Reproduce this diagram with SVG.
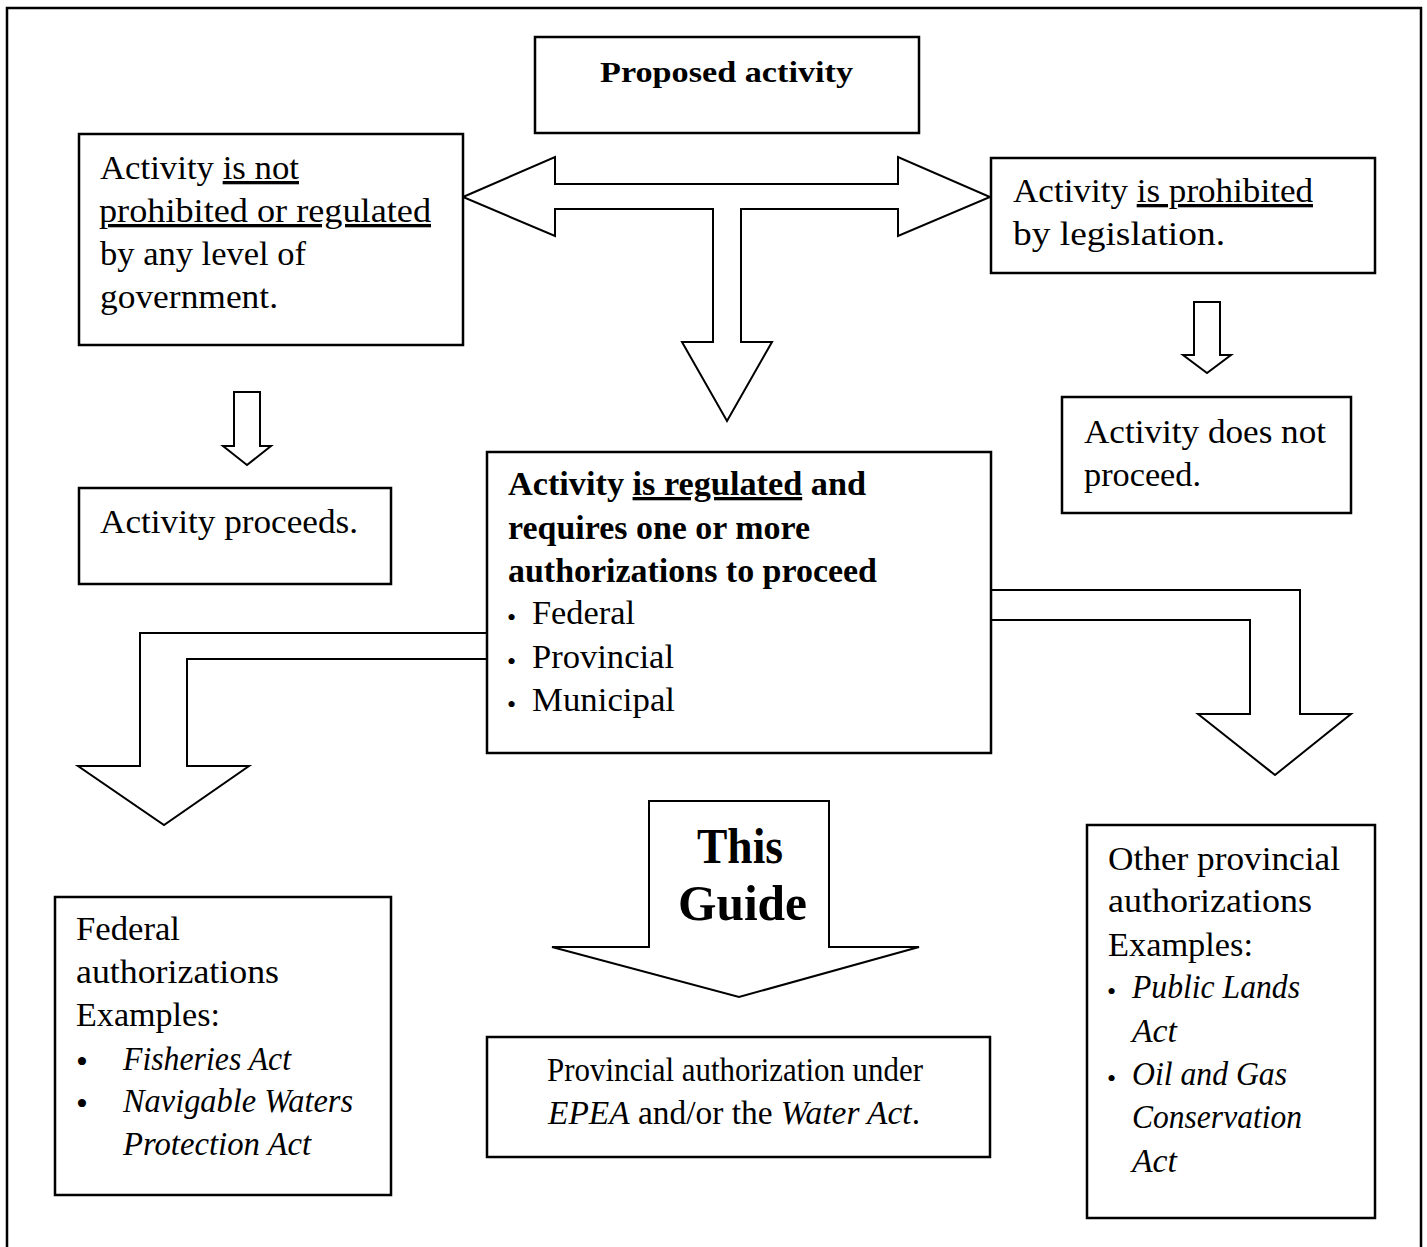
<svg xmlns="http://www.w3.org/2000/svg" width="1427" height="1247" viewBox="0 0 1427 1247">
  <style>
    .frame { fill: none; stroke: #000; stroke-width: 2.5; }
    .box { fill: #fff; stroke: #000; stroke-width: 2.5; }
    .arrow { fill: #fff; stroke: #000; stroke-width: 2; stroke-linejoin: miter; }
    text { font-family: "Liberation Serif", "Times New Roman", serif; fill: #000; }
    .t { font-size: 33px; }
    .b { font-size: 33px; font-weight: bold; }
    .hd { font-size: 30px; font-weight: bold; }
    .big { font-size: 50px; font-weight: bold; }
    .i { font-style: italic; }
    .u { text-decoration: underline; }
    .dot { font-size: 26px; }
    .dotL { font-size: 34px; }
  </style>

  <!-- page frame, open at the bottom -->
  <path class="frame" d="M7,1250 V8 H1421 V1250"/>

  <!-- block arrows -->
  <g id="connectors">
    <path class="arrow" d="M463,197 L555,157 L555,184 L898,184 L898,157 L990,197 L898,236 L898,209 L741,209 L741,342 L772,342 L727,421 L682,342 L713,342 L713,209 L555,209 L555,236 Z"/>
    <path class="arrow" d="M234,392 L260,392 L260,446 L271,446 L247,465 L223,446 L234,446 Z"/>
    <path class="arrow" d="M1194,302 L1220,302 L1220,355 L1231,355 L1207,373 L1183,355 L1194,355 Z"/>
    <path class="arrow" d="M488,633 L140,633 L140,766 L78,766 L164,825 L249,766 L187,766 L187,659 L488,659"/>
    <path class="arrow" d="M991,590 L1300,590 L1300,714 L1351,714 L1275,775 L1198,714 L1250,714 L1250,620 L991,620"/>
    <g id="this-guide">
      <path class="arrow" d="M649,801 L829,801 L829,947 L919,947 L739,997 L552,947 L649,947 Z"/>
      <text class="big" x="697" y="863" textLength="86" lengthAdjust="spacingAndGlyphs">This</text>
      <text class="big" x="678" y="920" textLength="129" lengthAdjust="spacingAndGlyphs">Guide</text>
    </g>
  </g>

  <g id="proposed">
    <rect class="box" x="535" y="37" width="384" height="96"/>
    <text class="hd" x="600" y="82" textLength="253" lengthAdjust="spacingAndGlyphs">Proposed activity</text>
  </g>

  <g id="not-regulated">
    <rect class="box" x="79" y="134" width="384" height="211"/>
    <text class="t" x="100" y="179" textLength="199" lengthAdjust="spacingAndGlyphs">Activity <tspan class="u">is not</tspan></text>
    <text class="t u" x="99" y="222" textLength="332" lengthAdjust="spacingAndGlyphs">prohibited or regulated</text>
    <text class="t" x="100" y="265" textLength="206" lengthAdjust="spacingAndGlyphs">by any level of</text>
    <text class="t" x="100" y="308" textLength="178" lengthAdjust="spacingAndGlyphs">government.</text>
  </g>

  <g id="prohibited">
    <rect class="box" x="991" y="158" width="384" height="115"/>
    <text class="t" x="1013" y="202" textLength="300" lengthAdjust="spacingAndGlyphs">Activity <tspan class="u">is prohibited</tspan></text>
    <text class="t" x="1013" y="245" textLength="212" lengthAdjust="spacingAndGlyphs">by legislation.</text>
  </g>

  <g id="does-not-proceed">
    <rect class="box" x="1062" y="397" width="289" height="116"/>
    <text class="t" x="1084" y="443" textLength="242" lengthAdjust="spacingAndGlyphs">Activity does not</text>
    <text class="t" x="1084" y="486" textLength="117" lengthAdjust="spacingAndGlyphs">proceed.</text>
  </g>

  <g id="proceeds">
    <rect class="box" x="79" y="488" width="312" height="96"/>
    <text class="t" x="100" y="533" textLength="258" lengthAdjust="spacingAndGlyphs">Activity proceeds.</text>
  </g>

  <g id="regulated">
    <rect class="box" x="487" y="452" width="504" height="301"/>
    <text class="b" x="508" y="495" textLength="358" lengthAdjust="spacingAndGlyphs">Activity <tspan class="u">is regulated</tspan> and</text>
    <text class="b" x="508" y="539" textLength="302" lengthAdjust="spacingAndGlyphs">requires one or more</text>
    <text class="b" x="508" y="582" textLength="369" lengthAdjust="spacingAndGlyphs">authorizations to proceed</text>
    <text class="dot" x="507" y="626">•</text>
    <text class="t" x="532" y="624" textLength="103" lengthAdjust="spacingAndGlyphs">Federal</text>
    <text class="dot" x="507" y="670">•</text>
    <text class="t" x="532" y="668" textLength="142" lengthAdjust="spacingAndGlyphs">Provincial</text>
    <text class="dot" x="507" y="713">•</text>
    <text class="t" x="532" y="711" textLength="143" lengthAdjust="spacingAndGlyphs">Municipal</text>
  </g>

  <g id="federal">
    <rect class="box" x="55" y="897" width="336" height="298"/>
    <text class="t" x="76" y="940" textLength="104" lengthAdjust="spacingAndGlyphs">Federal</text>
    <text class="t" x="76" y="983" textLength="203" lengthAdjust="spacingAndGlyphs">authorizations</text>
    <text class="t" x="76" y="1026" textLength="144" lengthAdjust="spacingAndGlyphs">Examples:</text>
    <text class="dotL" x="76" y="1073">•</text>
    <text class="t i" x="123" y="1070" textLength="168" lengthAdjust="spacingAndGlyphs">Fisheries Act</text>
    <text class="dotL" x="76" y="1115">•</text>
    <text class="t i" x="123" y="1112" textLength="230" lengthAdjust="spacingAndGlyphs">Navigable Waters</text>
    <text class="t i" x="123" y="1155" textLength="188" lengthAdjust="spacingAndGlyphs">Protection Act</text>
  </g>

  <g id="provincial-epea">
    <rect class="box" x="487" y="1037" width="503" height="120"/>
    <text class="t" x="547" y="1081" textLength="376" lengthAdjust="spacingAndGlyphs">Provincial authorization under</text>
    <text class="t" x="548" y="1124" textLength="372" lengthAdjust="spacingAndGlyphs"><tspan class="i">EPEA</tspan> and/or the <tspan class="i">Water Act</tspan>.</text>
  </g>

  <g id="other-provincial">
    <rect class="box" x="1087" y="825" width="288" height="393"/>
    <text class="t" x="1108" y="870" textLength="232" lengthAdjust="spacingAndGlyphs">Other provincial</text>
    <text class="t" x="1108" y="912" textLength="204" lengthAdjust="spacingAndGlyphs">authorizations</text>
    <text class="t" x="1108" y="956" textLength="145" lengthAdjust="spacingAndGlyphs">Examples:</text>
    <text class="dot" x="1107" y="1000">•</text>
    <text class="t i" x="1132" y="998" textLength="168" lengthAdjust="spacingAndGlyphs">Public Lands</text>
    <text class="t i" x="1132" y="1042" textLength="45" lengthAdjust="spacingAndGlyphs">Act</text>
    <text class="dot" x="1107" y="1087">•</text>
    <text class="t i" x="1132" y="1085" textLength="155" lengthAdjust="spacingAndGlyphs">Oil and Gas</text>
    <text class="t i" x="1132" y="1128" textLength="170" lengthAdjust="spacingAndGlyphs">Conservation</text>
    <text class="t i" x="1132" y="1172" textLength="45" lengthAdjust="spacingAndGlyphs">Act</text>
  </g>
</svg>
